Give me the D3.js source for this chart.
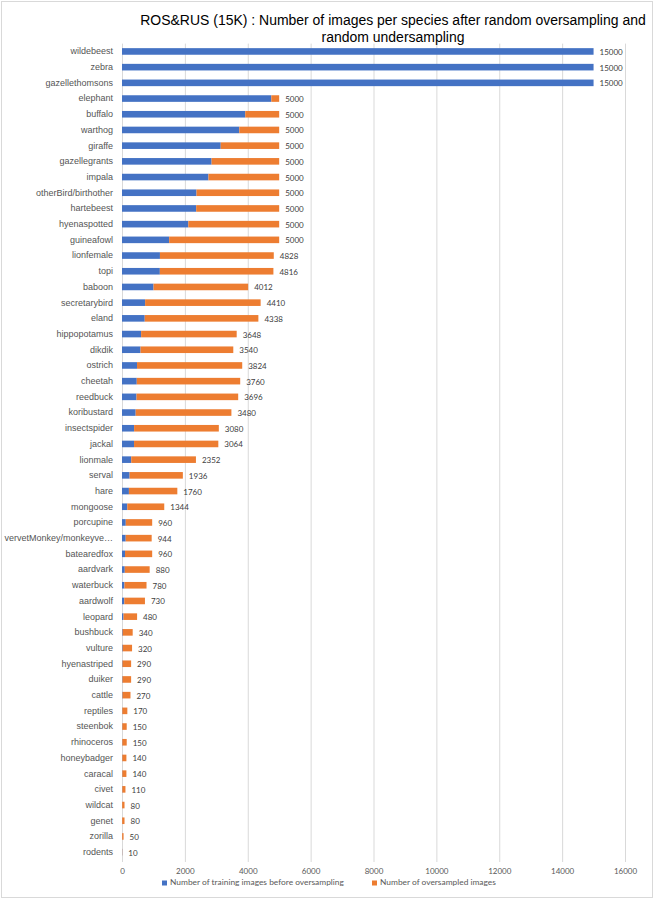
<!DOCTYPE html>
<html>
<head>
<meta charset="utf-8">
<script src="https://cdn.jsdelivr.net/npm/d3@7"></script>
<style>
  body { margin: 0; background: #fff; }
  #chart { width: 654px; height: 899px; }
  .grid line { stroke: #d9d9d9; stroke-width: 1; }
  .grid path { display: none; }
</style>
</head>
<body>
<div id="chart"></div>
<script>
// Species in display order (top to bottom)
const species = [
    'wildebeest', 'zebra', 'gazellethomsons', 'elephant', 'buffalo', 'warthog',
    'giraffe', 'gazellegrants', 'impala', 'otherBird/birthother', 'hartebeest',
    'hyenaspotted', 'guineafowl', 'lionfemale', 'topi', 'baboon', 'secretarybird',
    'eland', 'hippopotamus', 'dikdik', 'ostrich', 'cheetah', 'reedbuck',
    'koribustard', 'insectspider', 'jackal', 'lionmale', 'serval', 'hare',
    'mongoose', 'porcupine', 'vervetMonkey/monkeyve\u2026', 'batearedfox', 'aardvark',
    'waterbuck', 'aardwolf', 'leopard', 'bushbuck', 'vulture', 'hyenastriped',
    'duiker', 'cattle', 'reptiles', 'steenbok', 'rhinoceros', 'honeybadger',
    'caracal', 'civet', 'wildcat', 'genet', 'zorilla', 'rodents'
];

// Number of training images before oversampling (blue)
const trainingImages = [
    15000, 15000, 15000, 4750, 3920, 3730,
    3140, 2850, 2750, 2370, 2360,
    2110, 1500, 1207, 1204, 1003, 735,
    723, 608, 590, 478, 470, 462,
    435, 385, 383, 294, 242, 220,
    168, 120, 118, 96, 88,
    78, 73, 48, 20, 20, 15,
    15, 15, 10, 10, 10, 10,
    10, 10, 5, 5, 5, 5
];

// Number of oversampled images (orange)
const oversampledImages = [
    0, 0, 0, 250, 1080, 1270,
    1860, 2150, 2250, 2630, 2640,
    2890, 3500, 3621, 3612, 3009, 3675,
    3615, 3040, 2950, 3346, 3290, 3234,
    3045, 2695, 2681, 2058, 1694, 1540,
    1176, 840, 826, 864, 792,
    702, 657, 432, 320, 300, 275,
    275, 255, 160, 140, 140, 130,
    130, 100, 75, 75, 45, 5
];

// Total labels shown at the end of each bar
const totalLabels = [
    15000, 15000, 15000, 5000, 5000, 5000,
    5000, 5000, 5000, 5000, 5000,
    5000, 5000, 4828, 4816, 4012, 4410,
    4338, 3648, 3540, 3824, 3760, 3696,
    3480, 3080, 3064, 2352, 1936, 1760,
    1344, 960, 944, 960, 880,
    780, 730, 480, 340, 320, 290,
    290, 270, 170, 150, 150, 140,
    140, 110, 80, 80, 50, 10
];

const xTicks = [0, 2000, 4000, 6000, 8000, 10000, 12000, 14000, 16000];
const seriesNames = ['Number of training images before oversampling', 'Number of oversampled images'];
const seriesColors = ['#4472c4', '#ed7d31'];
const titleLines = [
    'ROS&RUS (15K) : Number of images per species after random oversampling and',
    'random undersampling'
];

const width = 654;
const height = 899;
const plot = { left: 122, right: 625, top: 43.6, bottom: 860 };

const svg = d3.select('#chart')
    .append('svg')
    .attr('width', width)
    .attr('height', height);

// Chart frame
svg.append('rect')
    .attr('x', 1.5).attr('y', 1.5)
    .attr('width', width - 3).attr('height', height - 3)
    .attr('fill', '#fff')
    .attr('stroke', '#d9d9d9');

// Scales
const x = d3.scaleLinear().domain([0, 16000]).range([plot.left, plot.right]);
const y = d3.scaleBand()
    .domain(species)
    .range([plot.top, plot.bottom])
    .paddingInner(0.58)
    .paddingOuter(0.29);

// Vertical gridlines
svg.append('g')
    .attr('class', 'grid')
    .attr('transform', `translate(0, ${plot.bottom + 2})`)
    .call(d3.axisBottom(x).tickValues(xTicks).tickSize(-(plot.bottom + 2 - plot.top)).tickFormat(''));

// X axis labels
const xAxis = svg.append('g')
    .attr('transform', `translate(0, ${plot.bottom + 2})`)
    .call(d3.axisBottom(x).tickValues(xTicks).tickSize(0).tickPadding(6).tickFormat(d3.format('d')));
xAxis.select('.domain').remove();
xAxis.selectAll('text')
    .attr('fill', '#595959')
    .style('font-family', 'Lato, "Open Sans", sans-serif')
    .style('font-size', '8px');

// Category axis
const yAxis = svg.append('g')
    .attr('transform', `translate(${plot.left}, 0)`)
    .call(d3.axisLeft(y).tickSize(0).tickPadding(9));
yAxis.select('.domain').remove();
yAxis.selectAll('text')
    .attr('fill', '#555')
    .style('font-family', '"Liberation Sans", Arial, sans-serif')
    .style('font-size', '9px');

// Stacked bars
const rows = species.map((s, i) => ({
    species: s,
    training: trainingImages[i],
    oversampled: oversampledImages[i],
    total: totalLabels[i]
}));
const stack = d3.stack().keys(['training', 'oversampled'])(rows);

svg.append('g')
    .selectAll('g')
    .data(stack)
    .join('g')
    .attr('fill', (d, i) => seriesColors[i])
    .selectAll('rect')
    .data(d => d)
    .join('rect')
    .attr('x', d => x(d[0]))
    .attr('y', d => y(d.data.species))
    .attr('width', d => Math.max(0, x(d[1]) - x(d[0])))
    .attr('height', y.bandwidth());

// Total labels
svg.append('g')
    .selectAll('text')
    .data(rows)
    .join('text')
    .attr('x', d => x(d.total) + 6)
    .attr('y', d => y(d.species) + y.bandwidth() / 2 + 1.5)
    .attr('dominant-baseline', 'middle')
    .attr('fill', '#404040')
    .style('font-family', 'Lato, "Open Sans", sans-serif')
    .style('font-size', '8px')
    .text(d => d.total);

// Title - shrink the font until the first line fits the reference width
const title = svg.append('text')
    .attr('x', 393)
    .attr('y', 25)
    .attr('text-anchor', 'middle')
    .attr('fill', '#000')
    .style('font-family', '"Liberation Sans", Arial, sans-serif')
    .style('font-size', '15px');
title.selectAll('tspan')
    .data(titleLines)
    .join('tspan')
    .attr('x', 393)
    .attr('dy', (d, i) => i === 0 ? 0 : 17)
    .text(d => d);
const firstLine = title.select('tspan').node();
const fitSize = 15 * 506 / firstLine.getComputedTextLength();
title.style('font-size', `${Math.min(16, fitSize)}px`);

// Legend
const legendX = [162, 372];
const legend = svg.append('g')
    .selectAll('g')
    .data(seriesNames)
    .join('g')
    .attr('transform', (d, i) => `translate(${legendX[i]}, 883)`);
legend.append('rect')
    .attr('x', 0).attr('y', -2.5)
    .attr('width', 5).attr('height', 5)
    .attr('fill', (d, i) => seriesColors[i]);
legend.append('text')
    .attr('x', 8)
    .attr('y', 0)
    .attr('dominant-baseline', 'middle')
    .attr('fill', '#595959')
    .style('font-family', 'Lato, "Open Sans", sans-serif')
    .style('font-size', '8.4px')
    .text(d => d);
</script>
</body>
</html>
